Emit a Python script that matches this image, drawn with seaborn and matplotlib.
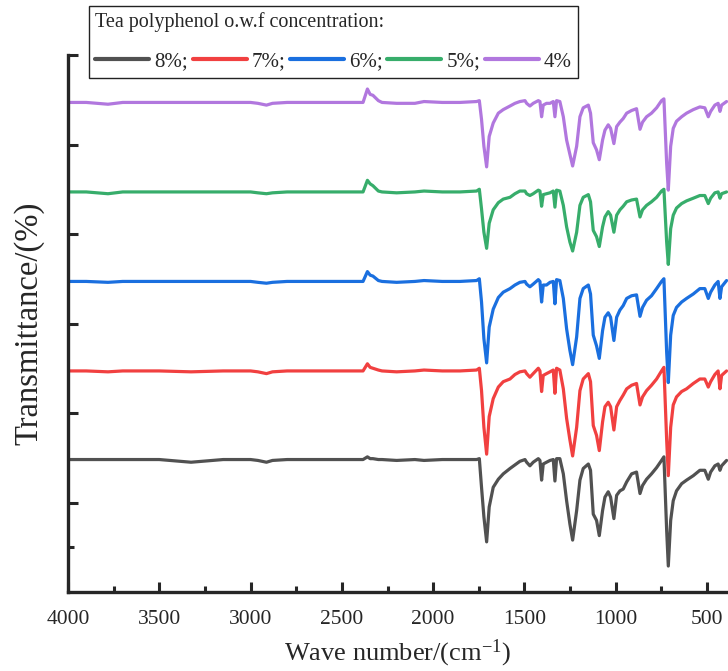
import pandas as pd
import numpy as np
import matplotlib
matplotlib.use("Agg")
import matplotlib.pyplot as plt
import seaborn as sns

wn_flat = [4000, 3900, 3781, 3700, 3500, 3326, 3150, 3000, 2960, 2913, 2880, 2800, 2600,
           2400, 2384, 2360, 2345, 2330, 2300, 2280, 2200, 2100, 2050, 1950, 1870]
wn_fp = [1853, 1762, 1747, 1735, 1722, 1707, 1693, 1671, 1643, 1616, 1579, 1552, 1525, 1497,
         1488, 1470, 1452, 1424, 1415, 1406, 1397, 1379, 1360, 1342, 1333, 1324, 1306, 1287,
         1269, 1251, 1236, 1214, 1196, 1178, 1150, 1138, 1123, 1105, 1090, 1072, 1059, 1041,
         1028, 1010, 995, 977, 959, 940, 913, 886, 867, 853, 831, 804, 776, 749, 736, 721,
         712, 699, 685, 667, 639, 612, 575, 539, 512, 493, 480, 457, 439, 429, 420, 393]

# Transmitancia relativa a la linea base de cada curva
t_8 = [0, 0, 0, 0, 0, -0.03, 0, 0, -0.01, -0.03, -0.01, 0, 0, 0, 0, 0.03, 0.01, 0.01, 0, 0, -0.01, 0, -0.01, 0, 0,
       0, 0, 0.01, -0.31, -0.64, -0.92, -0.53, -0.31, -0.22, -0.16, -0.10, -0.06, -0.02, 0, -0.03,
       -0.07, -0.03, 0.01, -0.01, -0.23, -0.05, -0.03, -0.01, 0, -0.24, 0.01, 0.01, -0.16, -0.46,
       -0.72, -0.90, -0.57, -0.23, -0.10, -0.05, -0.12, -0.61, -0.68, -0.85, -0.57, -0.42, -0.36,
       -0.42, -0.66, -0.40, -0.35, -0.33, -0.25, -0.16, -0.14, -0.38, -0.29, -0.22, -0.16, -0.09,
       -0.01, 0.03, -0.79, -1.19, -0.68, -0.46, -0.35, -0.27, -0.23, -0.18, -0.12, -0.12, -0.22,
       -0.14, -0.07, -0.05, -0.12, -0.07, -0.01]
t_7 = [0, 0, -0.01, 0, 0, -0.01, 0, 0, -0.01, -0.03, -0.01, 0, 0, 0, 0, 0.08, 0.04, 0.03, 0.01, 0, -0.01, 0, 0.01, 0, 0,
       0, 0.01, 0.03, -0.22, -0.63, -0.93, -0.51, -0.31, -0.18, -0.12, -0.09, -0.04, -0.01, 0, -0.03,
       -0.07, -0.03, 0.03, 0, -0.23, -0.05, -0.03, -0.01, 0.01, -0.25, 0.03, 0.01, -0.20, -0.53,
       -0.77, -0.95, -0.63, -0.22, -0.09, -0.03, -0.12, -0.61, -0.72, -0.89, -0.57, -0.40, -0.35,
       -0.40, -0.66, -0.40, -0.33, -0.27, -0.20, -0.16, -0.14, -0.38, -0.29, -0.22, -0.16, -0.09,
       0, 0.04, -0.77, -1.17, -0.63, -0.38, -0.29, -0.23, -0.20, -0.14, -0.09, -0.09, -0.18,
       -0.12, -0.04, 0, -0.20, -0.05, 0]
t_6 = [0, 0, -0.01, 0, 0, 0, 0, 0, -0.01, -0.02, -0.01, 0, 0, 0, 0, 0.11, 0.07, 0.06, 0.01, 0, -0.01, 0, 0.01, 0, 0,
       0, 0.01, 0.03, -0.23, -0.64, -0.91, -0.51, -0.31, -0.18, -0.12, -0.08, -0.04, -0.01, 0, -0.03,
       -0.06, -0.03, 0.02, 0, -0.23, -0.04, -0.04, -0.01, 0, -0.25, 0.02, 0.01, -0.19, -0.53,
       -0.77, -0.93, -0.62, -0.19, -0.08, -0.04, -0.14, -0.60, -0.72, -0.86, -0.55, -0.40, -0.35,
       -0.40, -0.66, -0.40, -0.32, -0.27, -0.19, -0.16, -0.15, -0.39, -0.29, -0.21, -0.16, -0.08,
       0, 0.03, -0.79, -1.13, -0.60, -0.38, -0.29, -0.23, -0.19, -0.14, -0.08, -0.08, -0.19,
       -0.12, -0.04, 0, -0.19, -0.06, 0.01]
t_5 = [0, 0, -0.02, 0, 0, 0, 0, 0, -0.01, -0.02, -0.01, 0, 0, 0, 0, 0.13, 0.09, 0.07, 0.01, 0, -0.01, 0, 0.01, 0, 0,
       0, 0.01, 0.03, -0.19, -0.45, -0.63, -0.35, -0.20, -0.12, -0.08, -0.06, -0.02, 0.01, 0.01, -0.02,
       -0.04, -0.02, 0.02, 0.01, -0.16, -0.03, -0.02, -0.01, 0.01, -0.17, 0.02, 0.01, -0.15, -0.39,
       -0.56, -0.66, -0.45, -0.15, -0.06, -0.03, -0.11, -0.43, -0.50, -0.61, -0.39, -0.28, -0.22,
       -0.26, -0.45, -0.26, -0.20, -0.16, -0.11, -0.09, -0.08, -0.28, -0.20, -0.15, -0.11, -0.06,
       0.01, 0.03, -0.56, -0.81, -0.41, -0.26, -0.18, -0.13, -0.10, -0.07, -0.04, -0.04, -0.13,
       -0.07, -0.01, 0, -0.07, -0.02, 0]
t_4 = [0, 0, -0.02, 0, 0, 0, 0, 0, -0.01, -0.03, -0.01, 0, 0, 0, 0, 0.15, 0.09, 0.08, 0.02, 0, -0.01, -0.01, 0.01, 0, 0,
       0, 0.01, 0.02, -0.19, -0.49, -0.72, -0.38, -0.23, -0.12, -0.08, -0.04, -0.01, 0.01, 0.02, -0.01,
       -0.04, -0.01, 0.02, 0.01, -0.16, -0.03, -0.01, -0.01, 0.01, -0.16, 0.02, 0.01, -0.16, -0.42,
       -0.58, -0.71, -0.49, -0.16, -0.06, -0.03, -0.12, -0.45, -0.53, -0.64, -0.42, -0.31, -0.25,
       -0.29, -0.46, -0.27, -0.22, -0.18, -0.12, -0.09, -0.07, -0.30, -0.22, -0.16, -0.12, -0.06,
       0.02, 0.04, -0.68, -0.98, -0.49, -0.29, -0.21, -0.16, -0.12, -0.08, -0.05, -0.06, -0.16,
       -0.10, -0.03, -0.01, -0.10, -0.03, 0.01]

conc = ['8%', '7%', '6%', '5%', '4%']
offsets = [1.48, 2.47, 3.47, 4.47, 5.47]
colores = ['#515151', '#F14040', '#1A6FDF', '#37AD6B', '#B177DE']
etiquetas = ['8%;', '7%;', '6%;', '5%;', '4%']

# Se arma el DataFrame en formato largo
wn = wn_flat + wn_fp
filas = []
for c, off, serie in zip(conc, offsets, [t_8, t_7, t_6, t_5, t_4]):
    for x, t in zip(wn, serie):
        filas.append({'wn': x, 'T': t + off, 'conc': c})
df = pd.DataFrame(filas)

sns.set_style('ticks')
plt.rcParams['font.family'] = ['Liberation Serif', 'DejaVu Serif']
plt.rcParams['mathtext.default'] = 'regular'

fig = plt.figure(figsize=(7.28, 6.71), dpi=100)
ax = fig.add_axes([68 / 728, 79 / 671, 660 / 728, 537 / 671])

sns.lineplot(data=df, x='wn', y='T', hue='conc', hue_order=conc, palette=colores,
             estimator=None, sort=False, lw=2.3, ax=ax)

ax.set_xlim(4000, 385)
ax.set_ylim(0, 6)
ax.set_xticks(range(4000, 499, -500))
ax.set_xticks(range(3750, 400, -500), minor=True)
ax.set_yticks([1, 2, 3, 4, 5, 6])
ax.set_yticks([0.5], minor=True)
ax.set_yticklabels([])
ax.tick_params(axis='both', which='major', direction='in', length=7, width=2.2, labelsize=15.5, pad=9)
ax.tick_params(axis='x', which='major', pad=13)
ax.tick_params(axis='both', which='minor', direction='in', length=4, width=2.2)

for lado in ['top', 'right']:
    ax.spines[lado].set_visible(False)
for lado in ['left', 'bottom']:
    ax.spines[lado].set_linewidth(2.4)

ax.set_xlabel('Wave number/(cm$^{-1}$)', fontsize=19, labelpad=6)
ax.set_ylabel('Transmittance/(%)', fontsize=23.5, labelpad=8)

# Leyenda en una fila con titulo
handles, _ = ax.get_legend_handles_labels()
leg = ax.legend(handles, etiquetas, title='Tea polyphenol o.w.f concentration:', ncol=5,
                loc='upper left', bbox_to_anchor=(89 / 728, 1 - 6 / 671), bbox_transform=fig.transFigure,
                borderaxespad=0, frameon=True, fancybox=False, edgecolor='#222222', framealpha=1,
                fontsize=15, title_fontsize=14.5, handlelength=2.6, handletextpad=0.25, columnspacing=0.2,
                borderpad=0.3, labelspacing=0.95, alignment='left')
leg.get_frame().set_linewidth(1.0)
for linea in leg.get_lines():
    linea.set_linewidth(3)

fig.savefig('out.png', dpi=100)
